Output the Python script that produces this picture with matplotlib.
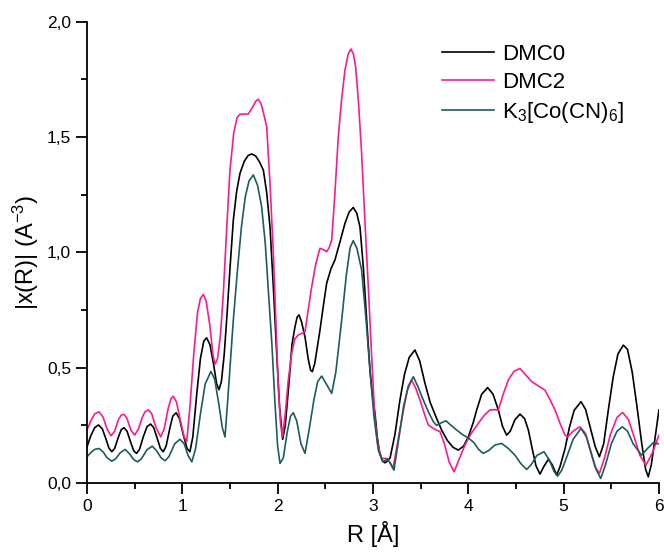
import matplotlib
matplotlib.use("Agg")
import matplotlib.pyplot as plt
from matplotlib.ticker import MultipleLocator, FuncFormatter

plt.rcParams['font.family'] = ['Liberation Sans', 'DejaVu Sans']
plt.rcParams['mathtext.fontset'] = 'custom'
plt.rcParams['mathtext.rm'] = 'Liberation Sans'
plt.rcParams['mathtext.it'] = 'Liberation Sans:italic'

# DMC0 (black)
r_dmc0 = [0.00, 0.04, 0.08, 0.12, 0.16, 0.20, 0.23, 0.26, 0.29, 0.33, 0.36, 0.388, 0.42, 0.46, 0.49,
          0.52, 0.55, 0.59, 0.63, 0.668, 0.70, 0.74, 0.77, 0.80, 0.83, 0.87, 0.90, 0.935, 0.97, 1.01,
          1.05, 1.08, 1.11, 1.15, 1.19, 1.225, 1.255, 1.29, 1.33, 1.36, 1.385, 1.41, 1.44, 1.465, 1.50,
          1.535, 1.57, 1.605, 1.65, 1.69, 1.727, 1.77, 1.81, 1.85, 1.885, 1.92, 1.955, 1.99, 2.02, 2.053,
          2.08, 2.12, 2.15, 2.182, 2.205, 2.224, 2.25, 2.287, 2.32, 2.345, 2.364, 2.39, 2.42, 2.444, 2.48,
          2.514, 2.56, 2.601, 2.65, 2.706, 2.75, 2.793, 2.83, 2.864, 2.90, 2.934, 2.97, 3.00, 3.021, 3.045,
          3.07, 3.10, 3.126, 3.15, 3.18, 3.23, 3.283, 3.33, 3.38, 3.44, 3.49, 3.546, 3.60, 3.668, 3.72,
          3.78, 3.84, 3.895, 3.95, 4.00, 4.05, 4.088, 4.14, 4.203, 4.26, 4.315, 4.36, 4.402, 4.44, 4.49,
          4.542, 4.59, 4.63, 4.67, 4.71, 4.752, 4.79, 4.84, 4.88, 4.927, 4.962, 5.015, 5.06, 5.11, 5.182,
          5.23, 5.28, 5.33, 5.375, 5.42, 5.47, 5.52, 5.57, 5.626, 5.67, 5.72, 5.77, 5.82, 5.86, 5.888,
          5.92, 5.96, 6.00]
chi_dmc0 = [0.157, 0.205, 0.240, 0.252, 0.236, 0.190, 0.152, 0.136, 0.150, 0.200, 0.232, 0.240, 0.225, 0.175, 0.140,
            0.129, 0.145, 0.200, 0.245, 0.256, 0.240, 0.190, 0.150, 0.136, 0.160, 0.240, 0.290, 0.305, 0.280, 0.210,
            0.150, 0.136, 0.200, 0.380, 0.540, 0.615, 0.630, 0.600, 0.510, 0.430, 0.405, 0.440, 0.560, 0.707, 0.930,
            1.140, 1.265, 1.343, 1.395, 1.420, 1.427, 1.418, 1.392, 1.357, 1.260, 1.110, 0.850, 0.562, 0.330, 0.190,
            0.250, 0.440, 0.600, 0.678, 0.720, 0.729, 0.700, 0.634, 0.540, 0.490, 0.483, 0.520, 0.600, 0.663, 0.770,
            0.866, 0.930, 0.967, 1.040, 1.126, 1.175, 1.195, 1.170, 1.110, 0.930, 0.707, 0.480, 0.360, 0.303, 0.200,
            0.129, 0.095, 0.088, 0.095, 0.110, 0.210, 0.360, 0.470, 0.545, 0.577, 0.530, 0.432, 0.350, 0.280, 0.230,
            0.185, 0.155, 0.143, 0.160, 0.200, 0.260, 0.317, 0.385, 0.414, 0.385, 0.317, 0.245, 0.208, 0.225, 0.275,
            0.299, 0.280, 0.230, 0.150, 0.075, 0.039, 0.070, 0.103, 0.080, 0.035, 0.071, 0.150, 0.240, 0.315, 0.353,
            0.320, 0.240, 0.160, 0.114, 0.170, 0.320, 0.460, 0.560, 0.598, 0.580, 0.480, 0.330, 0.170, 0.060, 0.027,
            0.080, 0.200, 0.317]

# DMC2 (pink)
r_dmc2 = [0.00, 0.04, 0.08, 0.126, 0.17, 0.21, 0.252, 0.29, 0.33, 0.36, 0.388, 0.42, 0.46, 0.50, 0.54,
          0.58, 0.61, 0.647, 0.68, 0.72, 0.773, 0.81, 0.85, 0.88, 0.905, 0.94, 0.98, 1.02, 1.046, 1.08,
          1.12, 1.16, 1.19, 1.22, 1.25, 1.29, 1.32, 1.343, 1.37, 1.40, 1.43, 1.465, 1.50, 1.54, 1.575,
          1.605, 1.65, 1.692, 1.73, 1.77, 1.797, 1.83, 1.86, 1.885, 1.92, 1.955, 1.98, 2.007, 2.03, 2.05,
          2.08, 2.11, 2.147, 2.18, 2.217, 2.25, 2.287, 2.32, 2.357, 2.40, 2.444, 2.48, 2.514, 2.54, 2.567,
          2.60, 2.636, 2.67, 2.706, 2.74, 2.769, 2.795, 2.818, 2.85, 2.881, 2.915, 2.951, 2.985, 3.021, 3.05,
          3.09, 3.14, 3.175, 3.21, 3.26, 3.32, 3.36, 3.405, 3.45, 3.493, 3.54, 3.58, 3.64, 3.703, 3.75,
          3.80, 3.852, 3.90, 3.965, 4.03, 4.105, 4.17, 4.227, 4.27, 4.315, 4.37, 4.42, 4.48, 4.542, 4.60,
          4.665, 4.74, 4.804, 4.86, 4.91, 4.962, 5.015, 5.04, 5.10, 5.17, 5.23, 5.28, 5.33, 5.375, 5.43,
          5.49, 5.56, 5.62, 5.68, 5.74, 5.80, 5.864, 5.93, 6.00]
chi_dmc2 = [0.230, 0.270, 0.300, 0.309, 0.285, 0.235, 0.205, 0.225, 0.275, 0.295, 0.298, 0.280, 0.230, 0.208, 0.235,
            0.285, 0.310, 0.317, 0.300, 0.245, 0.200, 0.235, 0.320, 0.365, 0.377, 0.350, 0.270, 0.200, 0.180, 0.330,
            0.560, 0.740, 0.800, 0.818, 0.790, 0.680, 0.560, 0.515, 0.540, 0.640, 0.820, 1.100, 1.357, 1.520, 1.585,
            1.599, 1.600, 1.600, 1.625, 1.655, 1.664, 1.640, 1.590, 1.545, 1.300, 0.996, 0.720, 0.418, 0.260, 0.200,
            0.300, 0.440, 0.562, 0.625, 0.642, 0.648, 0.656, 0.750, 0.851, 0.950, 1.018, 1.012, 1.003, 1.020, 1.054,
            1.250, 1.500, 1.660, 1.790, 1.860, 1.882, 1.860, 1.805, 1.640, 1.430, 1.140, 0.851, 0.560, 0.273, 0.170,
            0.107, 0.107, 0.090, 0.064, 0.180, 0.317, 0.400, 0.447, 0.410, 0.360, 0.300, 0.252, 0.235, 0.223, 0.170,
            0.090, 0.049, 0.100, 0.165, 0.215, 0.259, 0.295, 0.317, 0.318, 0.317, 0.390, 0.447, 0.485, 0.497, 0.470,
            0.440, 0.420, 0.403, 0.360, 0.317, 0.259, 0.208, 0.200, 0.225, 0.244, 0.215, 0.140, 0.070, 0.042, 0.110,
            0.210, 0.285, 0.306, 0.275, 0.200, 0.120, 0.078, 0.130, 0.208]

# K3[Co(CN)6] (dark teal)
r_kco = [0.00, 0.04, 0.08, 0.126, 0.17, 0.21, 0.26, 0.30, 0.35, 0.40, 0.45, 0.49, 0.53, 0.57, 0.63,
         0.685, 0.73, 0.78, 0.82, 0.86, 0.92, 0.975, 1.02, 1.06, 1.10, 1.14, 1.19, 1.24, 1.30, 1.34,
         1.38, 1.42, 1.448, 1.48, 1.535, 1.58, 1.62, 1.66, 1.70, 1.745, 1.79, 1.832, 1.87, 1.90, 1.94,
         1.972, 2.00, 2.025, 2.06, 2.10, 2.135, 2.164, 2.20, 2.245, 2.287, 2.33, 2.38, 2.42, 2.462, 2.51,
         2.567, 2.61, 2.672, 2.72, 2.76, 2.793, 2.83, 2.881, 2.925, 2.969, 3.01, 3.056, 3.108, 3.15, 3.185,
         3.22, 3.27, 3.32, 3.37, 3.423, 3.47, 3.528, 3.58, 3.633, 3.668, 3.72, 3.766, 3.82, 3.878, 3.94,
         4.00, 4.06, 4.11, 4.157, 4.21, 4.28, 4.35, 4.42, 4.49, 4.55, 4.612, 4.66, 4.72, 4.794, 4.85,
         4.90, 4.937, 4.98, 5.03, 5.10, 5.182, 5.24, 5.29, 5.34, 5.389, 5.44, 5.50, 5.56, 5.616, 5.67,
         5.73, 5.818, 5.88, 5.94, 6.00]
chi_kco = [0.114, 0.132, 0.146, 0.150, 0.135, 0.110, 0.095, 0.105, 0.132, 0.146, 0.125, 0.102, 0.092, 0.105, 0.145,
           0.160, 0.140, 0.108, 0.097, 0.115, 0.170, 0.190, 0.170, 0.120, 0.092, 0.150, 0.300, 0.430, 0.484, 0.450,
           0.350, 0.240, 0.200, 0.380, 0.707, 0.930, 1.110, 1.240, 1.310, 1.336, 1.290, 1.198, 1.040, 0.851, 0.600,
           0.346, 0.160, 0.085, 0.110, 0.220, 0.290, 0.305, 0.270, 0.170, 0.129, 0.230, 0.360, 0.440, 0.464, 0.430,
           0.389, 0.480, 0.707, 0.900, 1.020, 1.051, 1.020, 0.924, 0.720, 0.490, 0.290, 0.143, 0.092, 0.105, 0.085,
           0.056, 0.190, 0.331, 0.420, 0.461, 0.420, 0.360, 0.310, 0.266, 0.250, 0.262, 0.270, 0.250, 0.230, 0.210,
           0.196, 0.175, 0.145, 0.129, 0.140, 0.165, 0.172, 0.150, 0.121, 0.085, 0.059, 0.080, 0.120, 0.136, 0.100,
           0.050, 0.030, 0.055, 0.110, 0.190, 0.237, 0.200, 0.130, 0.060, 0.020, 0.080, 0.170, 0.225, 0.244, 0.225,
           0.170, 0.121, 0.150, 0.175, 0.170]

fig = plt.figure(figsize=(6.64, 5.54), dpi=100)
ax = fig.add_axes([0.131, 0.128, 0.8614, 0.8327])

ax.plot(r_dmc0, chi_dmc0, color='black', lw=1.2, label='DMC0')
ax.plot(r_dmc2, chi_dmc2, color='#FF1A8C', lw=1.2, label='DMC2')
ax.plot(r_kco, chi_kco, color='#1E5C5C', lw=1.2, label='K$_3$[Co(CN)$_6$]')

ax.set_xlim(0, 6)
ax.set_ylim(0, 2.0)
ax.xaxis.set_major_locator(MultipleLocator(1))
ax.xaxis.set_minor_locator(MultipleLocator(0.5))
ax.yaxis.set_major_locator(MultipleLocator(0.5))
ax.yaxis.set_minor_locator(MultipleLocator(0.25))
ax.yaxis.set_major_formatter(FuncFormatter(lambda v, p: f"{v:.1f}".replace('.', ',')))

for s in ['top', 'right']:
    ax.spines[s].set_visible(False)
for s in ['left', 'bottom']:
    ax.spines[s].set_linewidth(1.3)
ax.tick_params(which='major', direction='out', length=8, width=1.3, labelsize=12.5)
ax.tick_params(which='minor', direction='out', length=4.5, width=1.3)

ax.set_xlabel('R [Å]', fontsize=17, labelpad=5)
ax.set_ylabel('|x(R)| (A$^{-3}$)', fontsize=17, labelpad=4)

ax.legend(loc='upper left', bbox_to_anchor=(0.605, 0.972), frameon=False, fontsize=16,
          handlelength=2.35, handletextpad=0.35, labelspacing=0.32, borderaxespad=0)

fig.savefig('out.png', dpi=100)
